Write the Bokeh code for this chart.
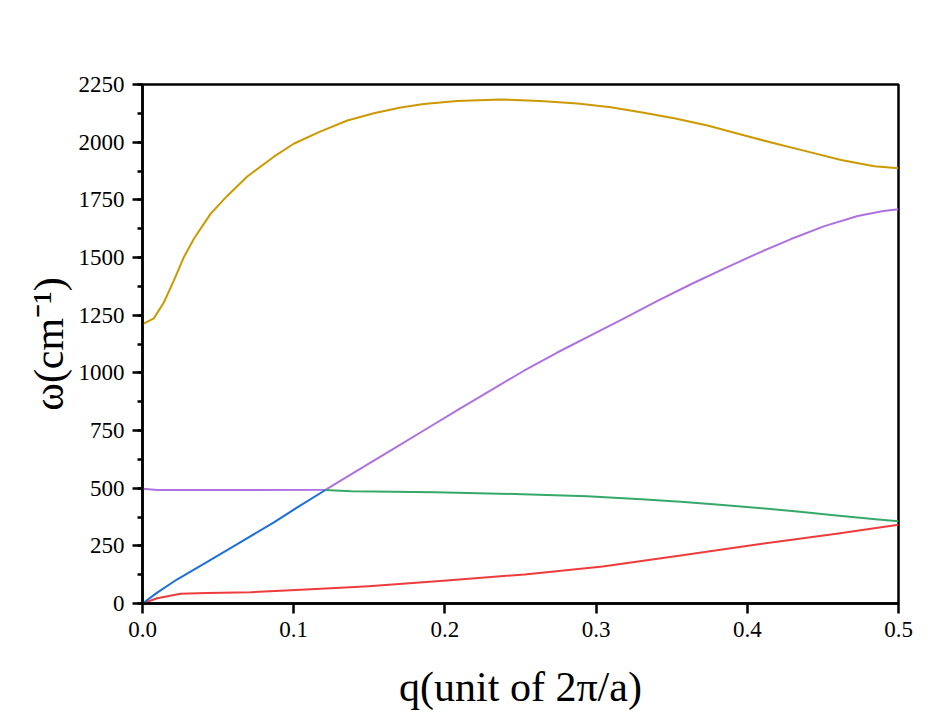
from bokeh.plotting import figure
from bokeh.models import SingleIntervalTicker, PrintfTickFormatter, Range1d
from bokeh.embed import file_html
from bokeh.resources import INLINE

# ---- data ----
gold_q = [0.0, 0.0075, 0.0141, 0.0207, 0.0273, 0.034, 0.045, 0.056, 0.0693, 0.0869, 0.100,
          0.1178, 0.1355, 0.153, 0.1707, 0.186, 0.208, 0.237, 0.263, 0.2877, 0.3097, 0.3296,
          0.3516, 0.3737, 0.3958, 0.4178, 0.44, 0.462, 0.484, 0.5]
gold_w = [1211, 1236, 1305, 1400, 1501, 1581, 1689, 1767, 1851, 1937, 1993,
          2047, 2094, 2125, 2150, 2165, 2178, 2185, 2179, 2168, 2151, 2130,
          2104, 2072, 2033, 1995, 1959, 1923, 1896, 1887]

purple_q = [0.0, 0.01, 0.121, 0.142, 0.164, 0.186, 0.208, 0.230, 0.252, 0.274, 0.2965,
            0.3185, 0.3406, 0.3627, 0.3847, 0.4068, 0.4289, 0.451, 0.473, 0.49, 0.5]
purple_w = [497, 492, 493, 576, 663, 750, 837, 923, 1008, 1087, 1162,
            1236, 1312, 1384, 1452, 1518, 1580, 1636, 1680, 1702, 1709]

blue_q = [0.0, 0.0097, 0.023, 0.0428, 0.0649, 0.0869, 0.1024, 0.121]
blue_w = [0, 47, 105, 180, 266, 352, 417, 492]

green_q = [0.121, 0.138, 0.1934, 0.2514, 0.294, 0.330, 0.3559, 0.3817, 0.4075, 0.4332,
           0.459, 0.4848, 0.5]
green_w = [492, 487, 482, 474, 465, 452, 441, 428, 414, 399, 382, 365, 357]

red_q = [0.0, 0.0097, 0.0252, 0.0428, 0.0715, 0.098, 0.131, 0.1495, 0.2011, 0.2527,
         0.3043, 0.3559, 0.4075, 0.459, 0.5]
red_w = [0, 23, 42, 46, 49, 57, 68, 75, 100, 126, 160, 208, 257, 302, 341]

x_label = "q(unit of 2π/a)"
y_label = "ω(cm⁻¹)"

FONT = "Liberation Serif"

p = figure(width=945, height=723, output_backend="svg", toolbar_location=None,
           x_range=Range1d(0, 0.5), y_range=Range1d(0, 2250),
           min_border_left=142, min_border_right=47, min_border_top=84, min_border_bottom=120)
p.background_fill_color = "white"
p.border_fill_color = "white"
p.grid.grid_line_color = None
p.outline_line_color = "black"
p.outline_line_width = 2.5
p.outline_line_alpha = 1.0

series = [
    (gold_q, gold_w, "#CC9900"),
    (purple_q, purple_w, "#AE72E0"),
    (green_q, green_w, "#36A869"),
    (red_q, red_w, "#EE3C3C"),
    (blue_q, blue_w, "#1C6FDC"),
]
for q, w, c in series:
    p.line(q, w, line_color=c, line_width=2, line_join="round")

p.xaxis.ticker = SingleIntervalTicker(interval=0.1, num_minor_ticks=0)
p.xaxis.formatter = PrintfTickFormatter(format="%.1f")
p.yaxis.ticker = SingleIntervalTicker(interval=250, num_minor_ticks=2)
p.yaxis.formatter = PrintfTickFormatter(format="%d")

for ax in (p.xaxis[0], p.yaxis[0]):
    ax.axis_line_width = 2.5
    ax.axis_line_color = "black"
    ax.major_tick_line_width = 2.5
    ax.major_tick_line_color = "black"
    ax.major_tick_out = 10
    ax.major_tick_in = 0
    ax.minor_tick_line_width = 2.5
    ax.minor_tick_line_color = "black"
    ax.minor_tick_out = 5
    ax.minor_tick_in = 0
    ax.major_label_text_font = FONT
    ax.major_label_text_font_size = "23px"
    ax.major_label_text_color = "black"
    ax.axis_label_text_font = FONT
    ax.axis_label_text_font_size = "42px"
    ax.axis_label_text_font_style = "normal"
    ax.axis_label_text_color = "black"

p.xaxis.minor_tick_line_color = None
p.xaxis.major_label_standoff = 8
p.yaxis.major_label_standoff = 8
p.xaxis.axis_label = x_label
p.yaxis.axis_label = y_label
p.xaxis.axis_label_standoff = 24
p.yaxis.axis_label_standoff = 4

open("out.html", "w").write(file_html(p, INLINE))
